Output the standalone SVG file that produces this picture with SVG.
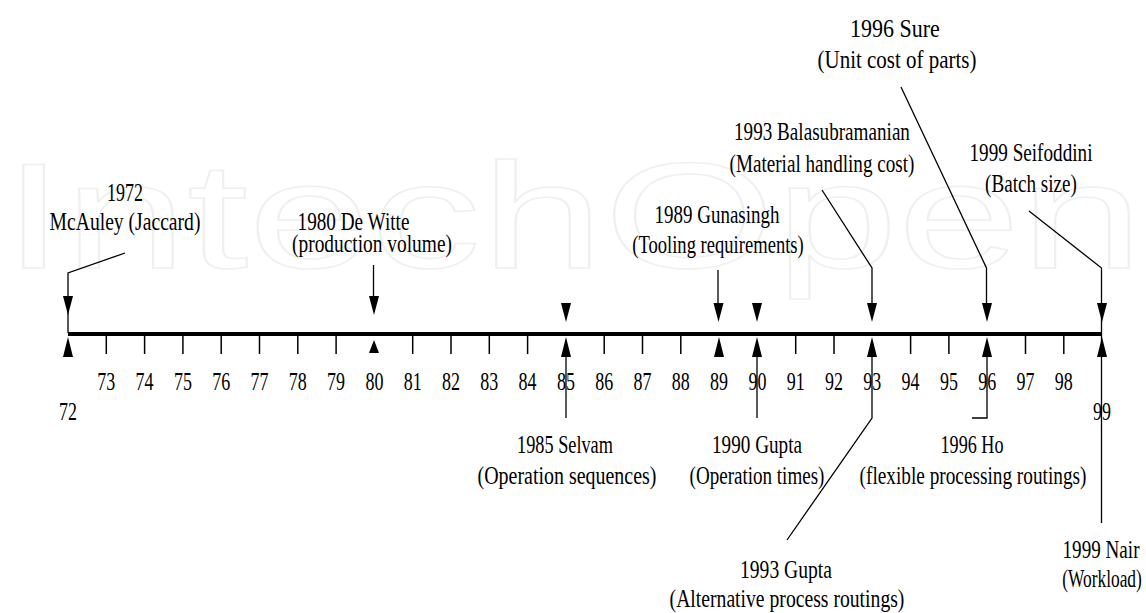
<svg xmlns="http://www.w3.org/2000/svg" width="1146" height="613" viewBox="0 0 1146 613">
<style>
.t text{font-family:"Liberation Serif",serif;font-size:25px;text-anchor:middle;fill:#000}
.ln{stroke:#000;stroke-width:1.3;fill:none}
.tk{stroke:#000;stroke-width:1.5}
.wm{font-family:"Liberation Sans",sans-serif;font-size:150px;fill:none;stroke:#efefef;stroke-width:1.5}
</style>
<defs>
<path id="ad" d="M-5,-19 L5,-19 L0,0 Z" fill="#000"/>
<path id="au" d="M-5,20 L5,20 L0,0 Z" fill="#000"/>
<path id="aus" d="M-5,13 L5,13 L0,0 Z" fill="#000"/>
</defs>
<rect width="1146" height="613" fill="#fff"/>
<text class="wm" x="3" y="268" textLength="1140" lengthAdjust="spacingAndGlyphs">IntechOpen</text>

<g id="axis">
<line x1="68" y1="334" x2="1102" y2="334" stroke="#000" stroke-width="4"/>
<g class="tk">
<line x1="106.3" y1="336" x2="106.3" y2="354"/>
<line x1="144.6" y1="336" x2="144.6" y2="354"/>
<line x1="182.9" y1="336" x2="182.9" y2="354"/>
<line x1="221.2" y1="336" x2="221.2" y2="354"/>
<line x1="259.5" y1="336" x2="259.5" y2="354"/>
<line x1="297.8" y1="336" x2="297.8" y2="354"/>
<line x1="336.1" y1="336" x2="336.1" y2="354"/>
<line x1="412.7" y1="336" x2="412.7" y2="354"/>
<line x1="451" y1="336" x2="451" y2="354"/>
<line x1="489.3" y1="336" x2="489.3" y2="354"/>
<line x1="527.6" y1="336" x2="527.6" y2="354"/>
<line x1="604.2" y1="336" x2="604.2" y2="354"/>
<line x1="642.5" y1="336" x2="642.5" y2="354"/>
<line x1="680.8" y1="336" x2="680.8" y2="354"/>
<line x1="795.7" y1="336" x2="795.7" y2="354"/>
<line x1="834" y1="336" x2="834" y2="354"/>
<line x1="910.6" y1="336" x2="910.6" y2="354"/>
<line x1="948.9" y1="336" x2="948.9" y2="354"/>
<line x1="1025.5" y1="336" x2="1025.5" y2="354"/>
<line x1="1063.8" y1="336" x2="1063.8" y2="354"/>
</g>
<g class="t">
<text transform="translate(68,420) scale(0.72,1)">72</text>
<text transform="translate(106.3,390) scale(0.72,1)">73</text>
<text transform="translate(144.6,390) scale(0.72,1)">74</text>
<text transform="translate(182.9,390) scale(0.72,1)">75</text>
<text transform="translate(221.2,390) scale(0.72,1)">76</text>
<text transform="translate(259.5,390) scale(0.72,1)">77</text>
<text transform="translate(297.8,390) scale(0.72,1)">78</text>
<text transform="translate(336.1,390) scale(0.72,1)">79</text>
<text transform="translate(374.4,390) scale(0.72,1)">80</text>
<text transform="translate(412.7,390) scale(0.72,1)">81</text>
<text transform="translate(451,390) scale(0.72,1)">82</text>
<text transform="translate(489.3,390) scale(0.72,1)">83</text>
<text transform="translate(527.6,390) scale(0.72,1)">84</text>
<text transform="translate(565.9,390) scale(0.72,1)">85</text>
<text transform="translate(604.2,390) scale(0.72,1)">86</text>
<text transform="translate(642.5,390) scale(0.72,1)">87</text>
<text transform="translate(680.8,390) scale(0.72,1)">88</text>
<text transform="translate(719.1,390) scale(0.72,1)">89</text>
<text transform="translate(757.4,390) scale(0.72,1)">90</text>
<text transform="translate(795.7,390) scale(0.72,1)">91</text>
<text transform="translate(834,390) scale(0.72,1)">92</text>
<text transform="translate(872.3,390) scale(0.72,1)">93</text>
<text transform="translate(910.6,390) scale(0.72,1)">94</text>
<text transform="translate(948.9,390) scale(0.72,1)">95</text>
<text transform="translate(987.2,390) scale(0.72,1)">96</text>
<text transform="translate(1025.5,390) scale(0.72,1)">97</text>
<text transform="translate(1063.8,390) scale(0.72,1)">98</text>
<text transform="translate(1102,420) scale(0.72,1)">99</text>
</g>
</g>

<g id="connectors">
<polyline class="ln" points="125,253 68,273 68,333"/>
<use href="#ad" x="68" y="315"/>
<line class="ln" x1="373.5" y1="265" x2="373.5" y2="300"/>
<use href="#ad" x="374" y="315"/>
<use href="#ad" x="566" y="322"/>
<line class="ln" x1="718" y1="270" x2="718" y2="305"/>
<use href="#ad" x="718.5" y="322"/>
<use href="#ad" x="757" y="322"/>
<polyline class="ln" points="822,190 872,268 872,305"/>
<use href="#ad" x="872" y="322"/>
<polyline class="ln" points="901,87 986.5,268 986.5,305"/>
<use href="#ad" x="987" y="322"/>
<polyline class="ln" points="1029,211 1101.5,268 1101.5,523"/>
<use href="#ad" x="1102" y="322"/>

<use href="#au" x="68" y="337"/>
<use href="#aus" x="374" y="340"/>
<use href="#au" x="566" y="337"/>
<use href="#au" x="719" y="337"/>
<use href="#au" x="757" y="337"/>
<use href="#au" x="872" y="337"/>
<use href="#au" x="987" y="337"/>
<use href="#au" x="1102" y="337"/>

<line class="ln" x1="566" y1="355" x2="566" y2="418"/>
<line class="ln" x1="757" y1="355" x2="757" y2="418"/>
<polyline class="ln" points="872,355 872,418 787,540"/>
<polyline class="ln" points="987,355 987,418 972,418" stroke-width="1.8"/>
</g>

<g id="n1972" class="t">
<text transform="translate(125,201) scale(0.72,1)">1972</text>
<text transform="translate(125,230) scale(0.785,1)">McAuley (Jaccard)</text>
</g>
<g id="n1980" class="t">
<text transform="translate(353.5,230) scale(0.768,1)">1980 De Witte</text>
<text transform="translate(372,252) scale(0.776,1)">(production volume)</text>
</g>
<g id="n1989" class="t">
<text transform="translate(717,223) scale(0.759,1)">1989 Gunasingh</text>
<text transform="translate(718,253) scale(0.744,1)">(Tooling requirements)</text>
</g>
<g id="n1993b" class="t">
<text transform="translate(822,140) scale(0.766,1)">1993 Balasubramanian</text>
<text transform="translate(822,172) scale(0.766,1)">(Material handling cost)</text>
</g>
<g id="n1996s" class="t">
<text transform="translate(895,37) scale(0.88,1)">1996 Sure</text>
<text transform="translate(897,68) scale(0.839,1)">(Unit cost of parts)</text>
</g>
<g id="n1999s" class="t">
<text transform="translate(1031,161) scale(0.767,1)">1999 Seifoddini</text>
<text transform="translate(1031,192) scale(0.766,1)">(Batch size)</text>
</g>
<g id="n1985" class="t">
<text transform="translate(565,453) scale(0.731,1)">1985 Selvam</text>
<text transform="translate(567,484) scale(0.798,1)">(Operation sequences)</text>
</g>
<g id="n1990" class="t">
<text transform="translate(757,453) scale(0.767,1)">1990 Gupta</text>
<text transform="translate(757,484) scale(0.762,1)">(Operation times)</text>
</g>
<g id="n1993g" class="t">
<text transform="translate(786,578) scale(0.784,1)">1993 Gupta</text>
<text transform="translate(787,607) scale(0.787,1)">(Alternative process routings)</text>
</g>
<g id="n1996h" class="t">
<text transform="translate(972,453) scale(0.726,1)">1996 Ho</text>
<text transform="translate(973,484) scale(0.771,1)">(flexible processing routings)</text>
</g>
<g id="n1999n" class="t">
<text transform="translate(1101,558) scale(0.765,1)">1999 Nair</text>
<text transform="translate(1102,587) scale(0.695,1)">(Workload)</text>
</g>
</svg>
